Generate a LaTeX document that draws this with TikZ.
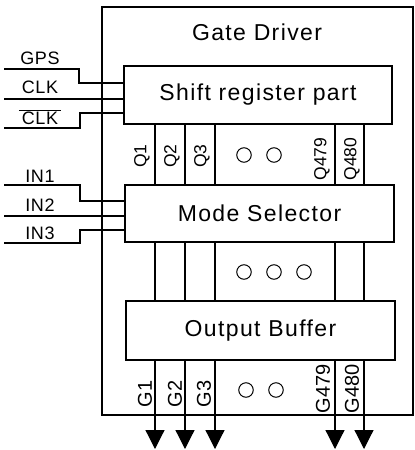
\documentclass[tikz,border=0pt]{standalone}
\usepackage{fontspec}
\setmainfont{Liberation Sans}
\newfontfamily\boxfont{Liberation Sans}[LetterSpace=6]
\newfontfamily\sigfont{Liberation Sans}[LetterSpace=4]
\usetikzlibrary{arrows.meta}
\begin{document}
\begin{tikzpicture}[x=1pt,y=-1pt,
  wire/.style={line width=1.2pt},
  blk/.style={draw,line width=1.2pt,inner sep=0pt,font=\boxfont\fontsize{23}{26}\selectfont},
  sig/.style={inner sep=0pt,font=\sigfont\fontsize{18}{20}\selectfont},
  qlab/.style={inner sep=0pt,rotate=90,font=\fontsize{17.5}{19}\selectfont},
  glab/.style={inner sep=0pt,rotate=90,font=\fontsize{20}{22}\selectfont},
  dot/.style={draw,circle,line width=1pt,minimum size=14.5pt,inner sep=0pt},
  outarrow/.style={line width=1.2pt,-{Triangle[width=19pt,length=19pt]}}]
\useasboundingbox (0,0) rectangle (415,450);
% outer box
\node[draw,line width=1.2pt,minimum width=311pt,minimum height=408pt,inner sep=0pt] (gd) at (257.5,211) {};
\node[inner sep=0pt,font=\boxfont\fontsize{23}{26}\selectfont] (gdt) at (257,32) {Gate Driver};
% blocks
\node[blk,minimum width=268pt,minimum height=58pt] (sr) at (258,95) {Shift register part};
\node[blk,minimum width=269pt,minimum height=57pt] (ms) at (259.5,213.5) {Mode Selector};
\node[blk,minimum width=269pt,minimum height=59pt] (ob) at (260.5,330.5) {Output Buffer};
% input signals
\node[sig] (gps) at (40,58) {GPS};
\node[sig] (clk) at (40,87) {CLK};
\node[sig] (clkb) at (40,117) {$\overline{\hbox{\,CLK\,}}$};
\node[sig] (in1) at (40,176) {IN1};
\node[sig] (in2) at (40,205) {IN2};
\node[sig] (in3) at (40,233) {IN3};
\coordinate (gpsS) at (4,69);
\coordinate (clkS) at (4,99);
\coordinate (clkbS) at (4,128);
\coordinate (in1S) at (4,185);
\coordinate (in2S) at (4,216);
\coordinate (in3S) at (4,243);
\draw[wire] (gpsS) -- (79,69) |- (sr.west |- 0,83);
\draw[wire] (clkS) -- (sr.west |- 0,99);
\draw[wire] (clkbS) -- (80,128) |- (sr.west |- 0,113);
\draw[wire] (in1S) -- (80,185) |- (ms.west |- 0,201);
\draw[wire] (in2S) -- (ms.west |- 0,216);
\draw[wire] (in3S) -- (80,243) |- (ms.west |- 0,230);
% column coordinates
\coordinate (x1) at (155,0);
\coordinate (x2) at (185,0);
\coordinate (x3) at (215,0);
\coordinate (x4) at (335,0);
\coordinate (x5) at (364,0);
\foreach \c in {x1,x2,x3,x4,x5}{
  \draw[wire] (\c |- sr.south) -- (\c |- ms.north);
  \draw[wire] (\c |- ms.south) -- (\c |- ob.north);
  \coordinate (\c e) at (\c |- 0,449);
  \draw[outarrow] (\c |- ob.south) -- (\c e);
}
% Q labels
\node[qlab] (q1) at (142,156) {Q1};
\node[qlab] (q2) at (172,156) {Q2};
\node[qlab] (q3) at (202,156) {Q3};
\node[qlab] (q479) at (322,159) {Q479};
\node[qlab] (q480) at (352,159) {Q480};
% G labels
\node[glab] (g1) at (145,394) {G1};
\node[glab] (g2) at (175,394) {G2};
\node[glab] (g3) at (204,394) {G3};
\node[glab] (g479) at (323,389) {G479};
\node[glab] (g480) at (352,389) {G480};
% ellipsis circles
\node[dot] (d1) at (244,155) {};
\node[dot] (d2) at (274,155) {};
\node[dot] (d3) at (244,272) {};
\node[dot] (d4) at (274,272) {};
\node[dot] (d5) at (304,272) {};
\node[dot] (d6) at (246,390) {};
\node[dot] (d7) at (276,390) {};
\end{tikzpicture}
\end{document}
